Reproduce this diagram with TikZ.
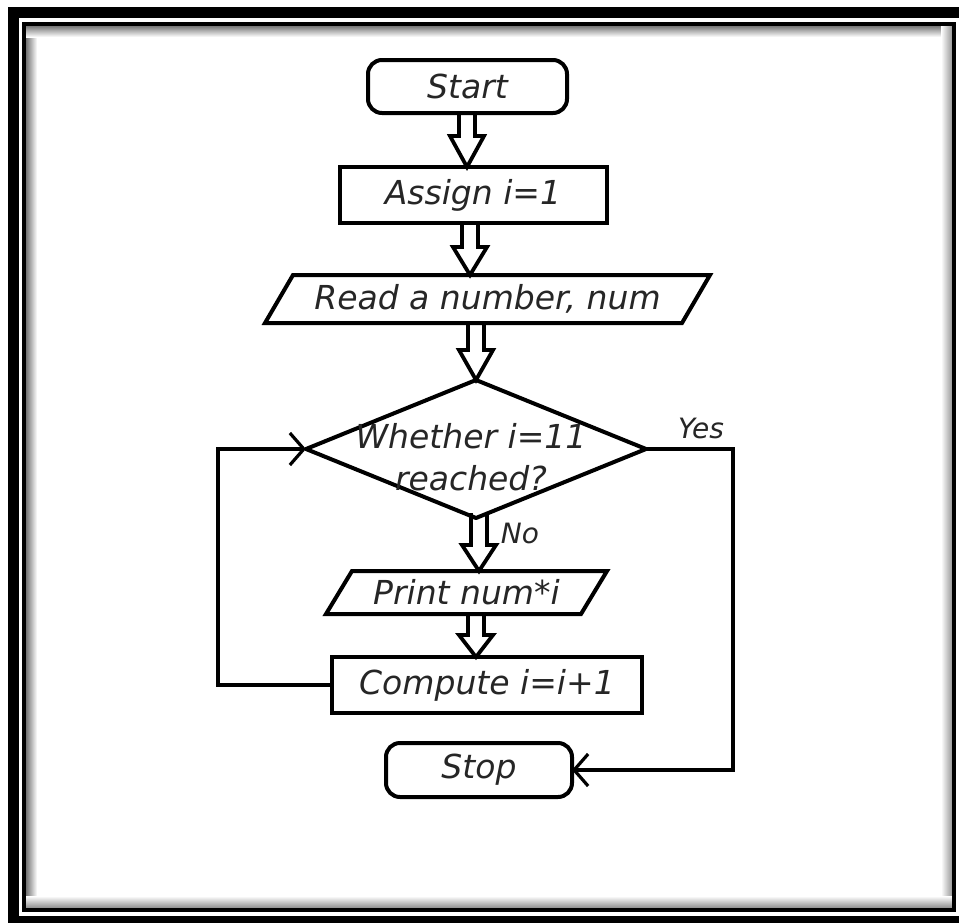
\documentclass[tikz,border=0pt]{standalone}
\usepackage{fontspec}
\setmainfont{DejaVu Sans}
\usetikzlibrary{calc,arrows.meta,shapes.geometric}
\newcommand\blk[5]{%
  \draw[blockarrow] let \p1=(#1.south), \p2=(#2.north) in
    (#3pt-8pt,\y1+#5pt) -- (#3pt-8pt,\y2+#4pt) -- (#3pt-17pt,\y2+#4pt) -- (#3pt,\y2)
    -- (#3pt+17pt,\y2+#4pt) -- (#3pt+8pt,\y2+#4pt) -- (#3pt+8pt,\y1+#5pt);}
\begin{document}
\begin{tikzpicture}[x=1pt,y=-1pt,
  ln/.style={line width=4pt,black},
  box/.style={draw,ln,rectangle,inner sep=0pt,outer sep=0pt},
  rbox/.style={box,rounded corners=14pt},
  io/.style={rectangle,inner sep=0pt,outer sep=0pt},
  txt/.style={font=\fontsize{33}{42}\selectfont\itshape,text=black!85},
  lbl/.style={font=\fontsize{28}{34}\selectfont\itshape,text=black!85},
  blockarrow/.style={line width=3.8pt,black,line join=miter},
  conn/.style={line width=4pt,black},
  openhead/.tip={Straight Barb[length=14pt,width=32pt,line width=3.2pt]}
]
\useasboundingbox (0,0) rectangle (959,922);
% frame
\fill[white] (0,0) rectangle (959,922);
\fill[black] (8,7) rectangle (975,935);
\fill[white] (19,18) rectangle (965,916);
\shade[left color=black!55,right color=white] (26,25.5) rectangle (37,908);
\shade[top color=black!55,bottom color=white] (26,25.5) rectangle (952,37);
\shade[right color=black!40,left color=white] (941,25.5) rectangle (952,908);
\shade[bottom color=black!45,top color=white] (26,896) rectangle (952,908);
\draw[line width=4pt] (24,23.5) rectangle (954,910);

% nodes
\node[rbox,minimum width=199pt,minimum height=53pt,txt] (start) at (467.5,86.5) {Start};
\node[box,minimum width=267pt,minimum height=56pt,txt] (assign) at (473,195) {Assign i=1};
\node[io,minimum width=417pt,minimum height=48pt,txt] (read) at (487.5,299) {Read a number, num};
\draw[ln] ($(read.north west)+(14,0)$) -- ($(read.north east)+(14,0)$) -- ($(read.south east)+(-14,0)$) -- ($(read.south west)+(-14,0)$) -- cycle;
\node[diamond,draw,ln,line join=round,minimum width=340pt,minimum height=138pt,inner sep=0pt,outer sep=0pt] (dec) at (476,449) {};
\node[txt,align=center] (dect) at (471,457) {Whether i=11\\reached?};
\node[io,minimum width=255pt,minimum height=43pt,txt] (print) at (466.5,592.5) {Print num*i};
\draw[ln] ($(print.north west)+(13,0)$) -- ($(print.north east)+(13,0)$) -- ($(print.south east)+(-13,0)$) -- ($(print.south west)+(-13,0)$) -- cycle;
\node[box,minimum width=310pt,minimum height=56pt,txt] (comp) at (487,685) {Compute i=i+1};
\node[rbox,minimum width=186pt,minimum height=54pt,txt] (stop) at (479,770) {Stop};

% labels
\node[lbl] (yes) at (701,428) {Yes};
\node[lbl] (no) at (520,533) {No};

% block arrows
\blk{start}{assign}{467}{31}{0}
\blk{assign}{read}{470}{28}{0}
\blk{read}{dec}{476}{30}{0}
\blk{dec}{print}{479}{26}{5}
\blk{print}{comp}{476}{22}{0}

% loop connectors
\coordinate (lx) at (218,685);
\coordinate (rx) at (733,449);
\draw[conn,-openhead] (comp.west) -- (lx) |- (dec.west);
\draw[conn,-openhead] (dec.east) -- (rx) |- (stop.east);
\end{tikzpicture}
\end{document}
